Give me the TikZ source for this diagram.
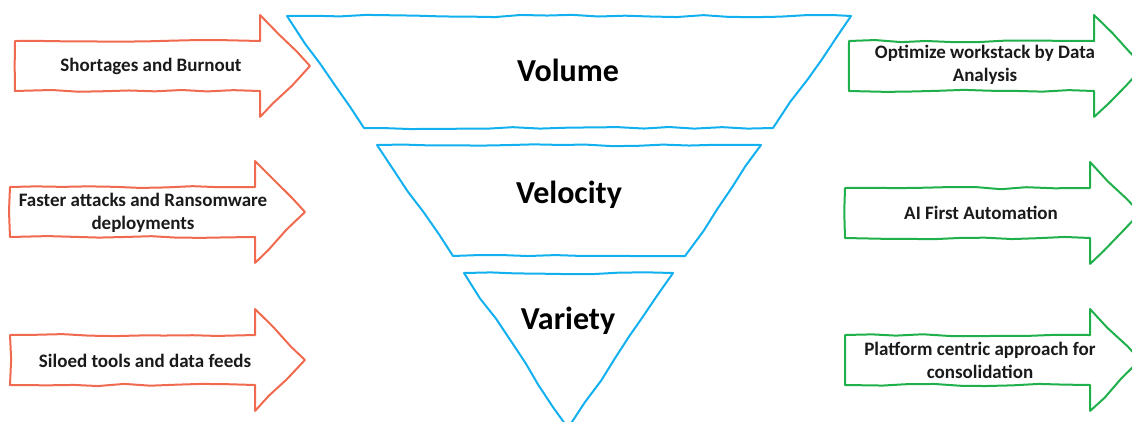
\documentclass[tikz,border=0pt]{standalone}
\usepackage{fontspec}
\setmainfont{Carlito}
\usetikzlibrary{decorations.pathmorphing}
\definecolor{coral}{HTML}{F06A50}
\definecolor{leaf}{HTML}{1FB04C}
\definecolor{sky}{HTML}{12B0EE}
\definecolor{ink}{HTML}{1A1A1A}

\begin{document}
\begin{tikzpicture}[x=1pt, y=-1pt, line width=2pt, line join=round, line cap=round,
  wob/.style={decoration={random steps, segment length=26pt, amplitude=1.2pt}},
  arrowtext/.style={font=\bfseries\fontsize{19}{23}\selectfont, text=ink, align=center},
  stagetext/.style={font=\bfseries\fontsize{32}{34}\selectfont, text=black},
  pics/bigarrow/.style={code={
    \draw (0,-25) decorate[wob]{-- (245,-25)} decorate[wob]{-- (245,-51)} decorate[wob]{-- (295,0)}
      decorate[wob]{-- (245,51)} decorate[wob]{-- (245,25)} decorate[wob]{-- (0,25)} decorate[wob]{-- (0,-25)};
  }}]
  \pgfmathsetseed{11}
  \useasboundingbox (0,0) rectangle (1132,421);
  \clip (0,0) rectangle (1132,421);

  % causes
  \pic[coral] at (15,66) {bigarrow};
  \pic[coral] at (10,212) {bigarrow};
  \pic[coral] at (10,360) {bigarrow};

  % answers
  \pic[leaf] at (849,66) {bigarrow};
  \pic[leaf] at (845,213) {bigarrow};
  \pic[leaf] at (845,360) {bigarrow};

  % funnel
  \draw[sky] (287,16) decorate[wob]{-- (851,16)} decorate[wob]{-- (773,128)} decorate[wob]{-- (364,128)} decorate[wob]{-- (287,16)};
  \draw[sky] (377,145) decorate[wob]{-- (761,145)} decorate[wob]{-- (685,256)} decorate[wob]{-- (453,256)} decorate[wob]{-- (377,145)};
  \draw[sky] (464,273) decorate[wob]{-- (673,273)} decorate[wob]{-- (568,428)} decorate[wob]{-- (464,273)};

  \node[stagetext] (vol) at (568,70) {Volume};
  \node[stagetext] (vel) at (569,195) {Velocity};
  \node[stagetext] (var) at (568,321) {Variety};

  \node[arrowtext] (short) at (151,66) {Shortages and Burnout};
  \node[arrowtext] (fast) at (143,213) {Faster attacks and Ransomware\\deployments};
  \node[arrowtext] (silo) at (145,361) {Siloed tools and data feeds};

  \node[arrowtext] (optim) at (985,65) {Optimize workstack by Data\\Analysis};
  \node[arrowtext] (aifirst) at (981,213) {AI First Automation};
  \node[arrowtext] (platform) at (980,360) {Platform centric approach for\\consolidation};
\end{tikzpicture}
\end{document}
